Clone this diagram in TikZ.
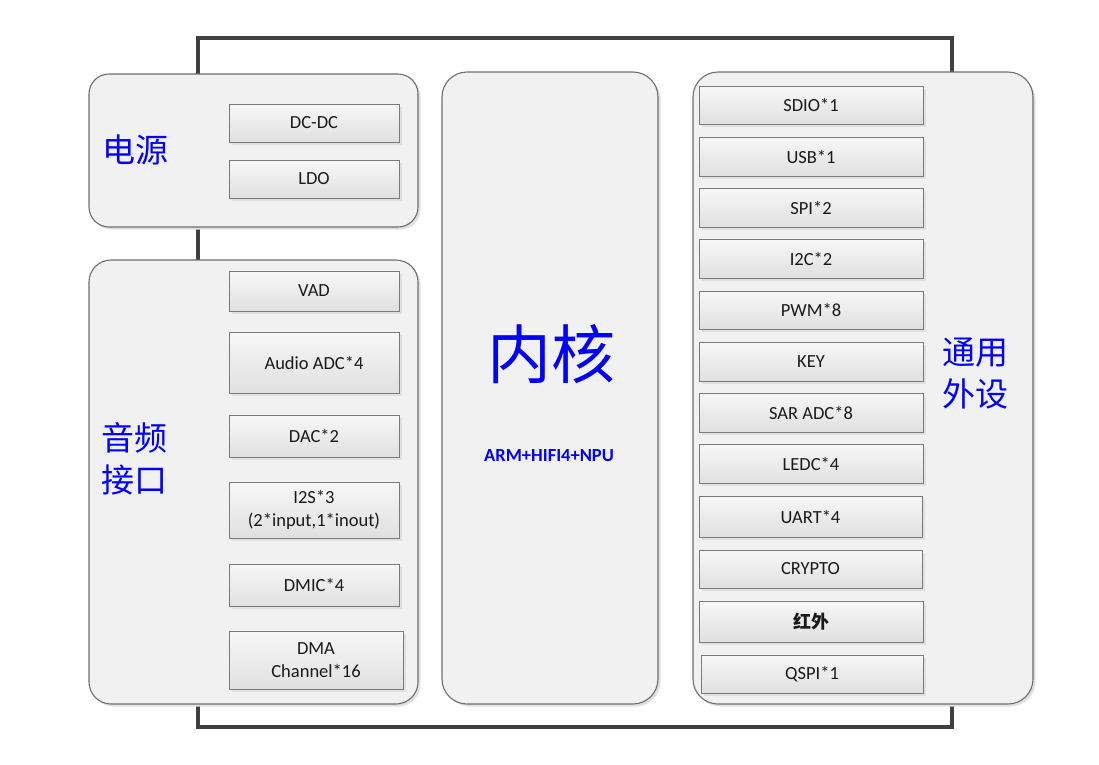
\documentclass[tikz,border=0pt]{standalone}
\usepackage{fontspec}
\setmainfont{Carlito}
\newfontfamily\cjk{Noto Sans CJK SC}
\usetikzlibrary{shadows}
\definecolor{frameline}{HTML}{404040}
\definecolor{panelfill}{HTML}{F1F1F1}
\definecolor{panelline}{HTML}{6E6E6E}
\definecolor{boxline}{HTML}{7A7A7A}
\definecolor{boxtop}{HTML}{F7F7F7}
\definecolor{boxbot}{HTML}{E0E0E0}
\definecolor{lblue}{HTML}{0000FF}
\definecolor{txt}{HTML}{1A1A1A}
\tikzset{
  panel/.style={draw=panelline, line width=1.1pt, fill=panelfill, rounded corners=#1,
    inner sep=0pt, drop shadow={shadow xshift=2.5pt, shadow yshift=-2.5pt, fill=black!12, opacity=1}},
  panel/.default=22pt,
  blk/.style={draw=boxline, line width=1pt, top color=boxtop, bottom color=boxbot,
    inner sep=0pt, text=txt, align=center, font=\fontsize{18.5}{22.5}\selectfont,
    drop shadow={shadow xshift=2.5pt, shadow yshift=-2.5pt, fill=black!12, opacity=1}},
  blabel/.style={text=lblue, font=\cjk\fontsize{33}{40}\selectfont, inner sep=0pt, align=center},
}
\begin{document}
\begin{tikzpicture}[x=1pt,y=-1pt]
\useasboundingbox (0,0) rectangle (1099,764);
% outer frame
\coordinate (fa) at (198,38);
\coordinate (fb) at (952,727);
\draw[frameline, line width=4.5pt] (fa) rectangle (fb);
% panels
\node[panel=20pt, minimum width=329pt, minimum height=153pt] (pwr) at (253.5,150.5) {};
\node[panel=22pt, minimum width=329pt, minimum height=444pt] (aud) at (253.5,482) {};
\node[panel=25pt, minimum width=216pt, minimum height=632pt] (core) at (550,388) {};
\node[panel=25pt, minimum width=340pt, minimum height=632pt] (per) at (863,388) {};
% panel labels
\node[blabel] (lpwr) at (135,150) {电源};
\node[blabel] (laud) at (134,459) {音频\\[2pt]接口};
\node[blabel] (lper) at (975,374) {通用\\[2pt]外设};
\node[text=lblue, font=\cjk\fontsize{64}{70}\selectfont, inner sep=0pt] (lcore) at (551,354) {内核};
\node[text=lblue, font=\bfseries\fontsize{18.5}{22}\selectfont, inner sep=0pt] (larm) at (549,456) {ARM+HIFI4+NPU};
% power boxes
\node[blk, minimum width=170pt, minimum height=38pt] (dcdc) at (314,123) {DC-DC};
\node[blk, minimum width=170pt, minimum height=38pt] (ldo) at (314,179) {LDO};
% audio boxes
\node[blk, minimum width=170pt, minimum height=40pt] (vad) at (314,291) {VAD};
\node[blk, minimum width=170pt, minimum height=61pt] (adc) at (314,362.5) {Audio ADC*4};
\node[blk, minimum width=170pt, minimum height=42pt] (dac) at (314,436) {DAC*2};
\node[blk, minimum width=170pt, minimum height=56pt] (i2s) at (314,510) {I2S*3\\(2*input,1*inout)};
\node[blk, minimum width=170pt, minimum height=42pt] (dmic) at (314,585) {DMIC*4};
\node[blk, minimum width=174pt, minimum height=58pt] (dma) at (316,660) {DMA\\Channel*16};
% peripheral boxes
\node[blk, minimum width=224pt, minimum height=38pt] (sdio) at (811,105) {SDIO*1};
\node[blk, minimum width=224pt, minimum height=39pt] (usb) at (811,156.5) {USB*1};
\node[blk, minimum width=224pt, minimum height=39pt] (spi) at (811,207.5) {SPI*2};
\node[blk, minimum width=224pt, minimum height=39pt] (i2c) at (811,258.5) {I2C*2};
\node[blk, minimum width=224pt, minimum height=38pt] (pwm) at (811,310) {PWM*8};
\node[blk, minimum width=224pt, minimum height=39pt] (key) at (811,361.5) {KEY};
\node[blk, minimum width=224pt, minimum height=39pt] (sar) at (811,412.5) {SAR ADC*8};
\node[blk, minimum width=224pt, minimum height=39pt] (ledc) at (811,463.5) {LEDC*4};
\node[blk, minimum width=223pt, minimum height=41pt] (uart) at (810.5,516.5) {UART*4};
\node[blk, minimum width=223pt, minimum height=38pt] (crypto) at (810.5,569) {CRYPTO};
\node[blk, minimum width=224pt, minimum height=41pt, font=\cjk\bfseries\fontsize{18}{22}\selectfont] (ir) at (811,621.5) {红外};
\node[blk, minimum width=222pt, minimum height=38pt] (qspi) at (812,674) {QSPI*1};
\end{tikzpicture}
\end{document}
